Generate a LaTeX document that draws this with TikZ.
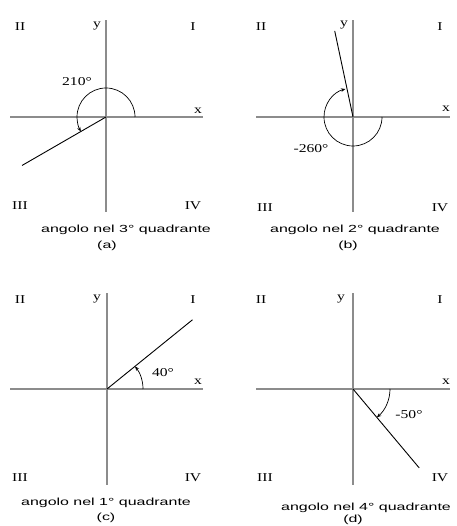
\documentclass[tikz,border=0pt]{standalone}
\usepackage{fontspec}
\setmainfont{Liberation Serif}
\newfontfamily\capfont{Liberation Sans}
\usetikzlibrary{arrows.meta,calc}
\newcommand{\wide}[1]{\scalebox{1.3}[1]{#1}}
\newcommand{\capwide}[1]{\scalebox{1.55}[1]{\capfont #1}}
\tikzset{
  axisline/.style={draw=black!45, line width=1.4pt},
  rayline/.style={draw=black, line width=0.9pt},
  anglearc/.style={draw=black, line width=0.7pt, -{Stealth[length=4.5pt,width=3.5pt]}},
  lbl/.style={inner sep=0pt, font=\fontsize{12}{13}\selectfont},
  captext/.style={inner sep=0pt, font=\fontsize{10.3}{11}\selectfont},
}
\begin{document}
\begin{tikzpicture}[x=1pt,y=1pt]
\useasboundingbox (0,0) rectangle (456,526);
% ---------- panel (a) ----------
\coordinate (oa) at (106,409);
\coordinate (axl) at (10,409); \coordinate (axr) at (203,409);
\coordinate (ayb) at (106,314); \coordinate (ayt) at (106,506);
\draw[axisline] (axl) -- (axr);
\draw[axisline] (ayb) -- (ayt);
\coordinate (ra) at ($(oa)+(210:97)$);
\draw[rayline] (oa) -- (ra);
\draw[anglearc] ($(oa)+(29,0)$) arc[start angle=0, end angle=210, radius=29];
\node[lbl] (a2) at (20,499) {\wide{II}};
\node[lbl] (ay) at (97,500) {\wide{y}};
\node[lbl] (a1) at (193,499) {\wide{I}};
\node[lbl] (ax) at (198,415) {\wide{x}};
\node[lbl] (a3) at (20,320) {\wide{III}};
\node[lbl] (a4) at (193,320) {\wide{IV}};
\node[lbl] (aang) at (77,444) {\wide{210°}};
\node[captext] (acap) at (126,296) {\capwide{angolo nel 3° quadrante}};
\node[captext] (alab) at (107,280) {\capwide{(a)}};
% ---------- panel (b) ----------
\coordinate (ob) at (353,409);
\coordinate (bxl) at (256,409); \coordinate (bxr) at (450,409);
\coordinate (byb) at (353,314); \coordinate (byt) at (353,506);
\draw[axisline] (bxl) -- (bxr);
\draw[axisline] (byb) -- (byt);
\coordinate (rb) at ($(ob)+(102:88)$);
\draw[rayline] (ob) -- (rb);
\draw[anglearc] ($(ob)+(29,0)$) arc[start angle=0, end angle=-255, radius=29];
\node[lbl] (b2) at (261,499) {\wide{II}};
\node[lbl] (by) at (344,501) {\wide{y}};
\node[lbl] (b1) at (440,499) {\wide{I}};
\node[lbl] (bx) at (446,417) {\wide{x}};
\node[lbl] (b3) at (265,318) {\wide{III}};
\node[lbl] (b4) at (440,318) {\wide{IV}};
\node[lbl] (bang) at (311,377) {\wide{-260°}};
\node[captext] (bcap) at (355,296) {\capwide{angolo nel 2° quadrante}};
\node[captext] (blab) at (348,280) {\capwide{(b)}};
% ---------- panel (c) ----------
\coordinate (oc) at (107,137);
\coordinate (cxl) at (10,137); \coordinate (cxr) at (203,137);
\coordinate (cyb) at (107,41); \coordinate (cyt) at (107,233);
\draw[axisline] (cxl) -- (cxr);
\draw[axisline] (cyb) -- (cyt);
\coordinate (rc) at ($(oc)+(39:110)$);
\draw[rayline] (oc) -- (rc);
\draw[anglearc] ($(oc)+(36,0)$) arc[start angle=0, end angle=39, radius=36];
\node[lbl] (c2) at (20,226) {\wide{II}};
\node[lbl] (cy) at (97,227) {\wide{y}};
\node[lbl] (c1) at (193,226) {\wide{I}};
\node[lbl] (cx) at (198,144) {\wide{x}};
\node[lbl] (c3) at (20,48) {\wide{III}};
\node[lbl] (c4) at (193,48) {\wide{IV}};
\node[lbl] (cang) at (163,153) {\wide{40°}};
\node[captext] (ccap) at (106,23) {\capwide{angolo nel 1° quadrante}};
\node[captext] (clab) at (106,8) {\capwide{(c)}};
% ---------- panel (d) ----------
\coordinate (od) at (353,137);
\coordinate (dxl) at (256,137); \coordinate (dxr) at (450,137);
\coordinate (dyb) at (353,41); \coordinate (dyt) at (353,233);
\draw[axisline] (dxl) -- (dxr);
\draw[axisline] (dyb) -- (dyt);
\coordinate (rd) at ($(od)+(-50:103)$);
\draw[rayline] (od) -- (rd);
\draw[anglearc] ($(od)+(37,0)$) arc[start angle=0, end angle=-50, radius=37];
\node[lbl] (d2) at (261,226) {\wide{II}};
\node[lbl] (dy) at (341,227) {\wide{y}};
\node[lbl] (d1) at (440,226) {\wide{I}};
\node[lbl] (dx) at (446,144) {\wide{x}};
\node[lbl] (d3) at (265,48) {\wide{III}};
\node[lbl] (d4) at (440,48) {\wide{IV}};
\node[lbl] (dang) at (409,111) {\wide{-50°}};
\node[captext] (dcap) at (366,18) {\capwide{angolo nel 4° quadrante}};
\node[captext] (dlab) at (353,6) {\capwide{(d)}};
\end{tikzpicture}
\end{document}
